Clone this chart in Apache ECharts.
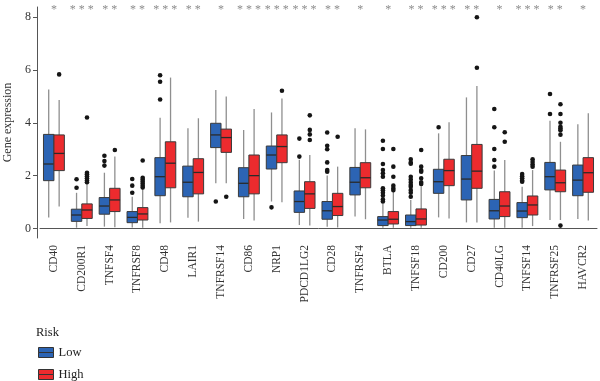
<!DOCTYPE html>
<html>
<head>
<meta charset="utf-8">
<script src="https://cdn.jsdelivr.net/npm/echarts@6/dist/echarts.min.js"></script>
<style>html,body{margin:0;padding:0;background:#fff;}#c{width:600px;height:381px;}</style>
</head>
<body>
<div id="c"></div>
<script>
// ---- data ----
const categories = ['CD40','CD200R1','TNFSF4','TNFRSF8','CD48','LAIR1','TNFRSF14','CD86','NRP1','PDCD1LG2',
  'CD28','TNFRSF4','BTLA','TNFSF18','CD200','CD27','CD40LG','TNFSF14','TNFRSF25','HAVCR2'];
const stars = ['*','***','**','**','***','**','*','***','***','***','**','*','*','**','***','**','*','***','**','*'];
const yTicks = [0, 2, 4, 6, 8];
// [min, Q1, median, Q3, max]
const lowStats = [
  [0.42,1.81,2.44,3.56,5.26],[0.03,0.27,0.51,0.73,1.35],[0.07,0.54,0.85,1.17,2.11],[0.04,0.22,0.42,0.64,1.20],
  [0.20,1.24,1.96,2.68,4.19],[0.41,1.20,1.75,2.36,3.79],[1.71,3.06,3.54,3.98,5.24],[0.36,1.20,1.71,2.30,3.73],
  [1.02,2.25,2.78,3.12,4.39],[0.13,0.61,1.02,1.42,2.60],[0.07,0.35,0.67,1.02,2.00],[0.45,1.27,1.75,2.31,3.79],
  [0.03,0.11,0.32,0.45,0.95],[0.03,0.11,0.26,0.51,1.08],[0.42,1.33,1.77,2.24,3.60],[0.23,1.08,1.87,2.76,4.96],
  [0.03,0.36,0.67,1.10,2.19],[0.03,0.41,0.66,0.98,1.58],[0.32,1.46,1.96,2.50,4.08],[0.36,1.24,1.83,2.40,3.94]
];
const highStats = [
  [0.83,2.19,2.84,3.54,4.86],[0.09,0.38,0.70,0.93,1.70],[0.05,0.64,1.08,1.52,2.72],[0.03,0.32,0.55,0.79,1.50],
  [0.23,1.54,2.47,3.28,5.71],[0.26,1.31,2.12,2.64,4.17],[1.71,2.88,3.44,3.76,4.99],[0.30,1.31,2.00,2.78,4.52],
  [0.99,2.49,3.10,3.54,4.92],[0.11,0.76,1.31,1.77,2.78],[0.04,0.49,0.83,1.33,2.34],[0.35,1.54,1.92,2.49,3.75],
  [0.03,0.17,0.35,0.64,1.39],[0.03,0.13,0.36,0.74,1.58],[0.38,1.62,2.19,2.62,4.02],[0.23,1.52,2.17,3.18,5.39],
  [0.03,0.45,0.85,1.39,2.59],[0.09,0.51,0.89,1.23,2.21],[0.32,1.39,1.73,2.21,3.28],[0.30,1.37,2.11,2.68,4.36]
];
const lowOutliers = [
  [],[1.86,1.54],[2.75,2.55,2.38],[1.87,1.62,1.35],[5.80,5.55,4.88],[],[1.02],[],[0.80],[3.40,2.72],
  [3.63,3.13,3.00,2.50,2.21,2.15],[],[3.32,3.01,2.44,2.21,2.09,1.96,1.52,1.45,1.35,1.25,1.10,1.02],
  [2.62,2.50,2.45,1.96,1.85,1.75,1.65,1.58,1.45,1.35,1.20],[3.83],[],[4.52,3.83,3.01,2.59,2.34],
  [2.06,1.98,1.90,1.82,1.77],[5.09,4.33],[]
];
const highOutliers = [
  [5.83],[4.20,2.11,2.05,1.98,1.90,1.82,1.75],[2.97],[2.57,1.92,1.85,1.78,1.70,1.62,1.55],[],[],[1.20],[],[5.21],
  [4.28,3.73,3.56,3.35],[3.47],[],[3.01,2.34,1.96,1.62,1.52,1.45],[2.97,2.34,2.20,2.15,1.90,1.75,1.68],[],
  [7.99,6.08],[3.64,3.28],[2.62,2.52,2.42,2.34],[4.70,4.33,4.00,3.85,3.78,3.72,3.55,0.11],[]
];
const groups = ['Low', 'High'];
const groupColors = ['#2C64B4', '#EC2B2E'];

// ---- build ----
const FONT = '"Liberation Serif", "Times New Roman", serif';
const boxData = [lowStats, highStats].map(st => st.map((s, i) => [i].concat(s)));
const outData = [lowOutliers, highOutliers].map(o => {
  const arr = [];
  o.forEach((vals, i) => vals.forEach(v => arr.push([i, v])));
  return arr;
});
const dodge = [-0.1875, 0.1875];
const halfW = 0.1875;

function makeBoxRenderer(g) {
  return function (params, api) {
    const i = api.value(0);
    const band = api.size([1, 0])[0];
    const cx = api.coord([i, 0])[0] + dodge[g] * band;
    const hw = halfW * band;
    const yMin = api.coord([i, api.value(1)])[1];
    const yQ1 = api.coord([i, api.value(2)])[1];
    const yMed = api.coord([i, api.value(3)])[1];
    const yQ3 = api.coord([i, api.value(4)])[1];
    const yMax = api.coord([i, api.value(5)])[1];
    const wStyle = { stroke: '#8f8f8f', lineWidth: 1.3 };
    return {
      type: 'group',
      children: [
        { type: 'line', shape: { x1: cx, y1: yQ3, x2: cx, y2: yMax }, style: wStyle },
        { type: 'line', shape: { x1: cx, y1: yMin, x2: cx, y2: yQ1 }, style: wStyle },
        { type: 'rect', shape: { x: cx - hw, y: yQ3, width: 2 * hw, height: yQ1 - yQ3 },
          style: { fill: groupColors[g], stroke: '#3a3a3a', lineWidth: 1 } },
        { type: 'line', shape: { x1: cx - hw, y1: yMed, x2: cx + hw, y2: yMed },
          style: { stroke: '#2a2a2a', lineWidth: 1.3 } }
      ]
    };
  };
}
function makeOutRenderer(g) {
  return function (params, api) {
    const i = api.value(0);
    const band = api.size([1, 0])[0];
    const p = api.coord([i, api.value(1)]);
    return { type: 'circle', shape: { cx: p[0] + dodge[g] * band, cy: p[1], r: 2.3 },
      style: { fill: '#151515' } };
  };
}

const series = [];
groups.forEach((name, g) => {
  series.push({
    name: name, type: 'custom', xAxisIndex: 0, yAxisIndex: 0,
    itemStyle: { color: groupColors[g] },
    renderItem: makeBoxRenderer(g), data: boxData[g],
    encode: { x: 0, y: [1, 2, 3, 4, 5] }, silent: true
  });
});
groups.forEach((name, g) => {
  series.push({
    name: name + ' outliers', type: 'custom', xAxisIndex: 0, yAxisIndex: 0,
    renderItem: makeOutRenderer(g), data: outData[g],
    encode: { x: 0, y: 1 }, silent: true
  });
});

const legendTops = [346, 368];
const legends = groups.map((name, g) => ({
  data: [name], orient: 'vertical', left: 38, top: legendTops[g], padding: 0,
  itemWidth: 15, itemHeight: 10,
  icon: 'path://M0,0H30V10H0Z M0,10H30V20H0Z',
  itemStyle: { borderColor: '#333', borderWidth: 1 },
  textStyle: { fontFamily: FONT, fontSize: 12.5, color: '#222' }
}));

const chart = echarts.init(document.getElementById('c'), null, { renderer: 'canvas' });
chart.setOption({
  animation: false,
  backgroundColor: '#fff',
  textStyle: { fontFamily: FONT },
  grid: { left: 40, right: 3, top: 7, bottom: 143, outerBoundsMode: 'none', containLabel: false },
  title: { text: 'Risk', left: 36, top: 326, padding: 0,
    textStyle: { fontFamily: FONT, fontSize: 12.5, fontWeight: 'normal', color: '#222' } },
  legend: legends,
  xAxis: [
    {
      type: 'category', data: categories, position: 'bottom',
      axisLine: { lineStyle: { color: '#555', width: 1 } },
      axisTick: { alignWithLabel: true, length: 4, lineStyle: { color: '#555' } },
      axisLabel: { rotate: 90, interval: 0, fontSize: 11.5, fontFamily: FONT, color: '#333', margin: 7 }
    },
    {
      type: 'category', data: stars, position: 'top',
      axisLine: { show: false }, axisTick: { show: false },
      axisLabel: { interval: 0, fontSize: 12, fontFamily: FONT, color: '#8c8c8c', margin: -9,
        formatter: v => v.split('').join(' ') }
    }
  ],
  yAxis: {
    type: 'value', min: -0.36, max: 8.38, offset: 3,
    name: 'Gene expression', nameLocation: 'middle', nameGap: 20,
    nameTextStyle: { fontFamily: FONT, fontSize: 12, color: '#333' },
    splitLine: { show: false },
    axisLine: { show: true, lineStyle: { color: '#555', width: 1 } },
    axisTick: { show: true, length: 4, lineStyle: { color: '#555' }, customValues: yTicks },
    axisLabel: { fontSize: 12, fontFamily: FONT, color: '#333', margin: 6, customValues: yTicks }
  },
  series: series
});
</script>
</body>
</html>
